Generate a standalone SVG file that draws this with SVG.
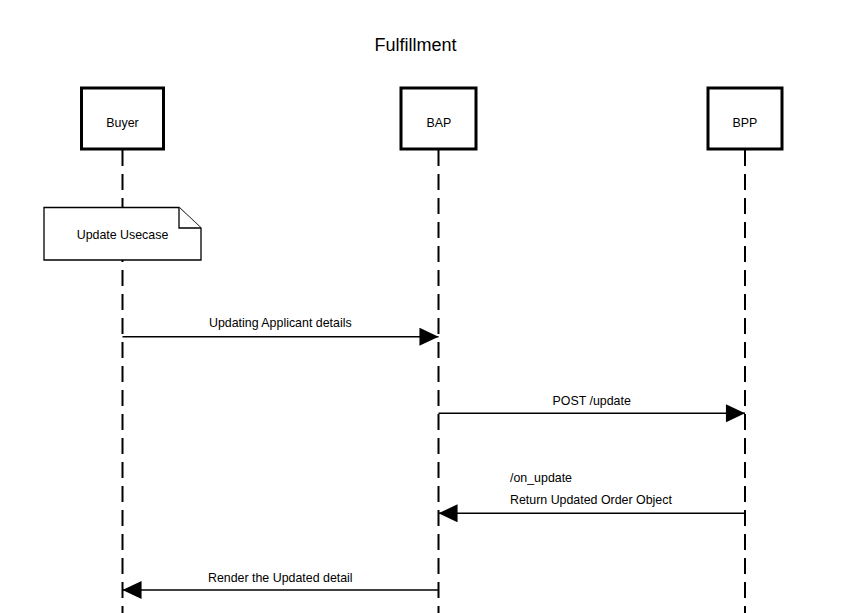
<svg xmlns="http://www.w3.org/2000/svg" width="845" height="613" viewBox="0 0 845 613">
<style>
text{font-family:"Liberation Sans",Arial,sans-serif;fill:#000}
.lbl{font-size:12.4px}
.title{font-size:18px}
.actor{fill:#fff;stroke:#000;stroke-width:3}
.life{stroke:#000;stroke-width:2;stroke-dasharray:16 8;fill:none}
.msg{stroke:#000;stroke-width:1.6;fill:none;marker-end:url(#ah)}
.note{fill:#fff;stroke:#000;stroke-width:1.3}
</style>
<defs>
<marker id="ah" markerUnits="userSpaceOnUse" markerWidth="20" markerHeight="18" viewBox="0 0 18 17" refX="18" refY="8.5" orient="auto">
<path d="M0,0 L18,8.5 L0,17 Z" fill="#000"/>
</marker>
</defs>
<rect width="845" height="613" fill="#fff"/>
<text class="title" x="415.5" y="51" text-anchor="middle">Fulfillment</text>
<g id="lifelines">
<line class="life" x1="122.5" y1="150" x2="122.5" y2="613"/>
<line class="life" x1="438.5" y1="150" x2="438.5" y2="613"/>
<line class="life" x1="745" y1="150" x2="745" y2="613"/>
</g>
<g id="buyer">
<rect class="actor" x="81.5" y="88" width="82" height="61"/>
<text class="lbl" x="122.5" y="126.5" text-anchor="middle">Buyer</text>
</g>
<g id="bap">
<rect class="actor" x="401" y="88" width="75" height="61"/>
<text class="lbl" x="439" y="126.5" text-anchor="middle">BAP</text>
</g>
<g id="bpp">
<rect class="actor" x="708" y="88" width="74" height="61"/>
<text class="lbl" x="745" y="126.5" text-anchor="middle">BPP</text>
</g>
<g id="note">
<path class="note" d="M44,207.5 H179 L201,228 V260 H44 Z"/>
<path class="note" d="M179,207.5 V228 H201" fill="none"/>
<text class="lbl" x="122.5" y="239" text-anchor="middle">Update Usecase</text>
</g>
<g id="connectors">
<line class="msg" x1="122.5" y1="336.7" x2="438.5" y2="336.7"/>
<text class="lbl" x="280.3" y="327.3" text-anchor="middle">Updating Applicant details</text>
<line class="msg" x1="438.5" y1="413.3" x2="745" y2="413.3"/>
<text class="lbl" x="591.7" y="405" text-anchor="middle">POST /update</text>
<line class="msg" x1="745" y1="513.3" x2="438.5" y2="513.3"/>
<text class="lbl" x="510" y="481.5">/on_update</text>
<text class="lbl" x="510" y="504">Return Updated Order Object</text>
<line class="msg" x1="438.5" y1="590" x2="122.5" y2="590"/>
<text class="lbl" x="280.3" y="581.7" text-anchor="middle">Render the Updated detail</text>
</g>
</svg>
